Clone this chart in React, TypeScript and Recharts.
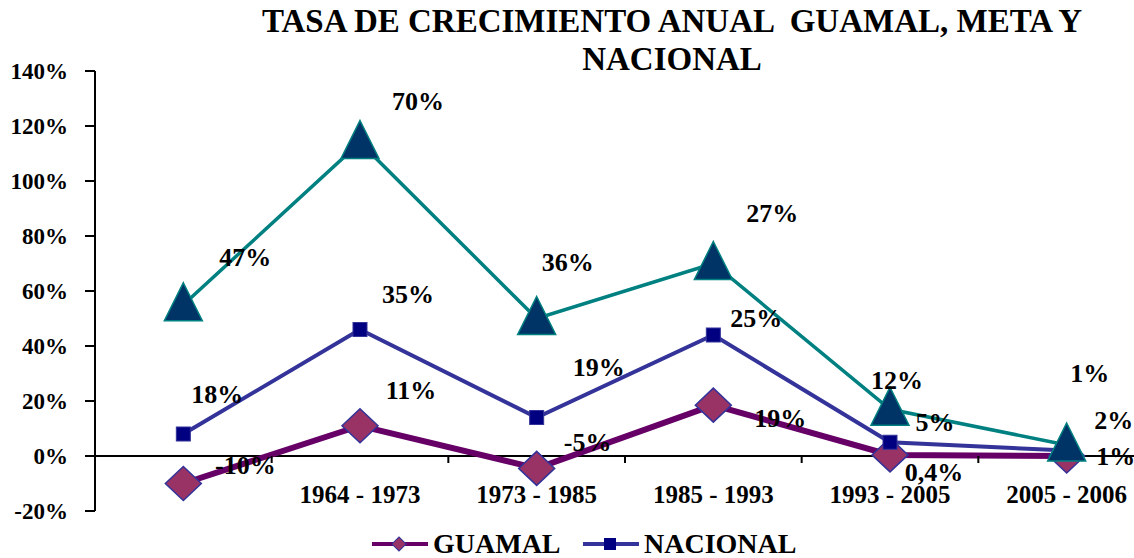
import React from "react";
import { LineChart, Line, XAxis, YAxis, ReferenceLine, LabelList } from "recharts";

// periods (first category has no printed label in the source)
const periods = ["", "1964 - 1973", "1973 - 1985", "1985 - 1993", "1993 - 2005", "2005 - 2006"];
const guamal = [-10, 11, -4.5, 18.5, 0.4, 0];
const nacional = [8, 46, 14, 44, 5, 2];
const meta = [55, 114, 50, 70, 17, 4];
const guamalLabels = ["-10%", "11%", "-5%", "19%", "0,4%", "1%"];
const nacionalLabels = ["18%", "35%", "19%", "25%", "5%", "2%"];
const metaLabels = ["47%", "70%", "36%", "27%", "12%", "1%"];
const yTicks = [-20, 0, 20, 40, 60, 80, 100, 120, 140];

// hand-placed label offsets (dx, dy from the point), like the Excel original
const guamalOffsets = [[62, -18], [51, -35], [51, -26], [67, 13], [44, 18], [49, 0]];
const nacionalOffsets = [[34, -40], [48, -35], [62, -50], [43, -17], [45, -20], [47, -30]];
const metaOffsets = [[62, -47], [58, -41], [31, -56], [59, -50], [7, -29], [23, -72]];

const data = periods.map((p, i) => ({
  period: p,
  guamal: guamal[i],
  nacional: nacional[i],
  meta: meta[i],
  guamalLabel: guamalLabels[i],
  nacionalLabel: nacionalLabels[i],
  metaLabel: metaLabels[i],
}));

const FONT = '"Liberation Serif", "Times New Roman", serif';
const CHART_W = 1160;
const CHART_H = 558;
const X_AXIS_H = 20;
const MARGIN = { top: 71, right: 5, bottom: 47 - X_AXIS_H, left: 0 };
const Y_AXIS_W = 95;
const PLOT_W = CHART_W - MARGIN.left - MARGIN.right - Y_AXIS_W;
const PLOT_H = CHART_H - MARGIN.top - MARGIN.bottom - X_AXIS_H;
const HALF_BAND = PLOT_W / (periods.length * 2);
const Y_MIN = -20;
const Y_MAX = 140;
const ZERO_OFFSET = (PLOT_H * (0 - Y_MIN)) / (Y_MAX - Y_MIN);

const XTick = ({ x, y, payload }: any) => {
  const zeroY = y - ZERO_OFFSET;
  return (
    <g>
      <line x1={x - HALF_BAND} x2={x - HALF_BAND} y1={zeroY} y2={zeroY + 7} stroke="#000" strokeWidth={2} />
      <text x={x} y={y - 8} textAnchor="middle" fontFamily={FONT} fontWeight="bold" fontSize={25} fill="#000">
        {payload.value}
      </text>
    </g>
  );
};

const makeLabel = (offsets: number[][]) => (props: any) => {
  const px = props.viewBox?.x ?? props.x;
  const py = props.viewBox?.y ?? props.y;
  const [dx, dy] = offsets[props.index] ?? [0, 0];
  return (
    <text x={px + dx} y={py + dy} textAnchor="middle" dominantBaseline="central" fontFamily={FONT} fontWeight="bold" fontSize={26} fill="#000">
      {props.value}
    </text>
  );
};

const Diamond = ({ cx, cy }: any) => (
  <polygon points={`${cx},${cy - 17} ${cx + 18},${cy} ${cx},${cy + 17} ${cx - 18},${cy}`} fill="#993366" stroke="#333399" strokeWidth={1.5} />
);
const Square = ({ cx, cy }: any) => (
  <rect x={cx - 7} y={cy - 7} width={14} height={14} fill="#000080" stroke="#333399" strokeWidth={1} />
);
const Triangle = ({ cx, cy }: any) => (
  <polygon points={`${cx},${cy - 22} ${cx + 19},${cy + 16} ${cx - 19},${cy + 16}`} fill="#003366" stroke="#008080" strokeWidth={1.5} />
);

const legendItems = [
  { name: "GUAMAL", color: "#660066", left: 372, top: 530, size: 28, marker: <rect x={22} y={6} width={10} height={10} transform="rotate(45 27 11)" fill="#993366" stroke="#333399" /> },
  { name: "NACIONAL", color: "#333399", left: 583, top: 530, size: 28, marker: <rect x={21} y={5} width={12} height={12} fill="#000080" /> },
  { name: "META", color: "#008080", left: 372, top: 566, size: 28, marker: <polygon points="27,3 35,18 19,18" fill="#003366" /> },
];

export default function App() {
  return (
    <div style={{ position: "absolute", left: 0, top: 0, width: 1134, height: 558, overflow: "hidden", background: "#fff" }}>
      <div
        style={{
          position: "absolute",
          left: 172,
          width: 1000,
          top: 2,
          textAlign: "center",
          fontFamily: FONT,
          fontWeight: "bold",
          fontSize: 33,
          lineHeight: "38px",
          whiteSpace: "pre",
          color: "#000",
        }}
      >
        {"TASA DE CRECIMIENTO ANUAL  GUAMAL, META Y\nNACIONAL"}
      </div>
      <div style={{ position: "absolute", left: 0, top: 0 }}>
        <LineChart width={CHART_W} height={CHART_H} data={data} margin={MARGIN}>
          <XAxis
            dataKey="period"
            axisLine={false}
            tickLine={false}
            tickSize={0}
            tickMargin={0}
            height={X_AXIS_H}
            interval={0}
            padding={{ left: HALF_BAND, right: HALF_BAND }}
            tick={<XTick />}
          />
          <YAxis
            width={Y_AXIS_W}
            domain={[Y_MIN, Y_MAX]}
            ticks={yTicks}
            tickFormatter={(v: number) => `${v}%`}
            axisLine={{ stroke: "#000", strokeWidth: 2 }}
            tickLine={{ stroke: "#000", strokeWidth: 2 }}
            tickSize={10}
            tickMargin={17}
            tick={{ fill: "#000", fontFamily: FONT, fontWeight: "bold", fontSize: 23 }}
          />
          <ReferenceLine y={0} stroke="#000" strokeWidth={2} />
          <Line type="linear" dataKey="guamal" stroke="#660066" strokeWidth={6} dot={<Diamond />} activeDot={false} isAnimationActive={false}>
            <LabelList dataKey="guamalLabel" content={makeLabel(guamalOffsets)} />
          </Line>
          <Line type="linear" dataKey="nacional" stroke="#333399" strokeWidth={4} dot={<Square />} activeDot={false} isAnimationActive={false}>
            <LabelList dataKey="nacionalLabel" content={makeLabel(nacionalOffsets)} />
          </Line>
          <Line type="linear" dataKey="meta" stroke="#008080" strokeWidth={3.5} dot={<Triangle />} activeDot={false} isAnimationActive={false}>
            <LabelList dataKey="metaLabel" content={makeLabel(metaOffsets)} />
          </Line>
        </LineChart>
      </div>
      {legendItems.map((it) => (
        <div key={it.name} style={{ position: "absolute", left: it.left, top: it.top, display: "flex", alignItems: "center" }}>
          <svg width={56} height={22}>
            <line x1={0} x2={56} y1={11} y2={11} stroke={it.color} strokeWidth={4} />
            {it.marker}
          </svg>
          <span style={{ marginLeft: 5, fontFamily: FONT, fontWeight: "bold", fontSize: it.size, color: "#000", lineHeight: "28px" }}>{it.name}</span>
        </div>
      ))}
    </div>
  );
}
